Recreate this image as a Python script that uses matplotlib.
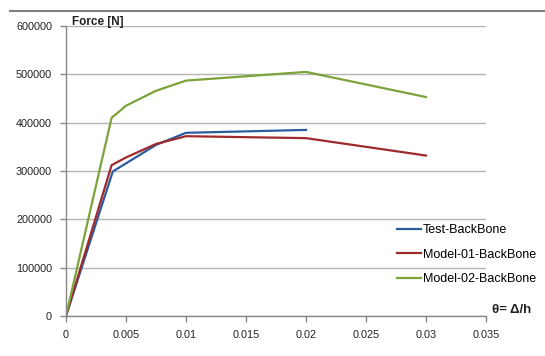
import matplotlib
matplotlib.use("Agg")
from matplotlib import pyplot as plt
from matplotlib.lines import Line2D

# drift ratio values (theta = delta / h)
drift = [0, 0.0038, 0.005, 0.0075, 0.01, 0.02, 0.03]
drift_test = [0, 0.0039, 0.0075, 0.01, 0.02]

# forces [N]
test_force = [0, 299000, 354000, 379000, 385000]
model01_force = [0, 312000, 328000, 356000, 372000, 368000, 332000]
model02_force = [0, 410000, 435000, 466000, 487000, 505000, 453000]

x_ticks = [0, 0.005, 0.01, 0.015, 0.02, 0.025, 0.03, 0.035]
x_labels = ["0", "0.005", "0.01", "0.015", "0.02", "0.025", "0.03", "0.035"]
y_ticks = [0, 100000, 200000, 300000, 400000, 500000, 600000]

plt.rcParams['font.family'] = ['Liberation Sans', 'DejaVu Sans']

fig = plt.figure(figsize=(5.45, 3.56), dpi=100)
ax = fig.add_axes([66 / 545, 1 - 316 / 356, 420 / 545, 290 / 356])

ax.plot(drift_test, test_force, color="#2a5ca0", lw=1.6, label="Test-BackBone")
ax.plot(drift, model01_force, color="#9e2a2b", lw=1.6, label="Model-01-BackBone")
ax.plot(drift, model02_force, color="#7ba33a", lw=1.6, label="Model-02-BackBone")

ax.set_xlim(0, 0.035)
ax.set_ylim(0, 600000)
ax.set_xticks(x_ticks)
ax.set_xticklabels(x_labels)
ax.set_yticks(y_ticks)
ax.set_yticklabels([str(v) for v in y_ticks])
ax.tick_params(axis="both", labelsize=7.8, colors="#868686", labelcolor="#222222",
               length=4, width=1)
ax.tick_params(axis="x", pad=6)
ax.tick_params(axis="y", pad=6)

ax.grid(axis="y", color="#b4b4b4", lw=1)
ax.set_axisbelow(True)
for side in ["top", "right"]:
    ax.spines[side].set_visible(False)
for side in ["left", "bottom"]:
    ax.spines[side].set_color("#868686")
    ax.spines[side].set_linewidth(1)

fig.text(72 / 545, 1 - 22 / 356, "Force [N]", fontsize=8.5, fontweight="bold",
         color="#222222", va="center", ha="left")
fig.text(492 / 545, 1 - 310 / 356, "θ= Δ/h", fontsize=9.5, fontweight="bold",
         color="#222222", va="center", ha="left")

# thin rule across the top of the picture
fig.add_artist(Line2D([10 / 545, 1], [1 - 11 / 356, 1 - 11 / 356],
                      transform=fig.transFigure, color="#808080", lw=1.5))

fig.legend(loc="upper left", bbox_to_anchor=(397 / 545, 1 - 224 / 356),
           bbox_transform=fig.transFigure, frameon=False, fontsize=9,
           borderpad=0, borderaxespad=0, handlelength=1.9, handletextpad=0.15,
           labelspacing=1.0)

fig.savefig("out.png", dpi=100)
